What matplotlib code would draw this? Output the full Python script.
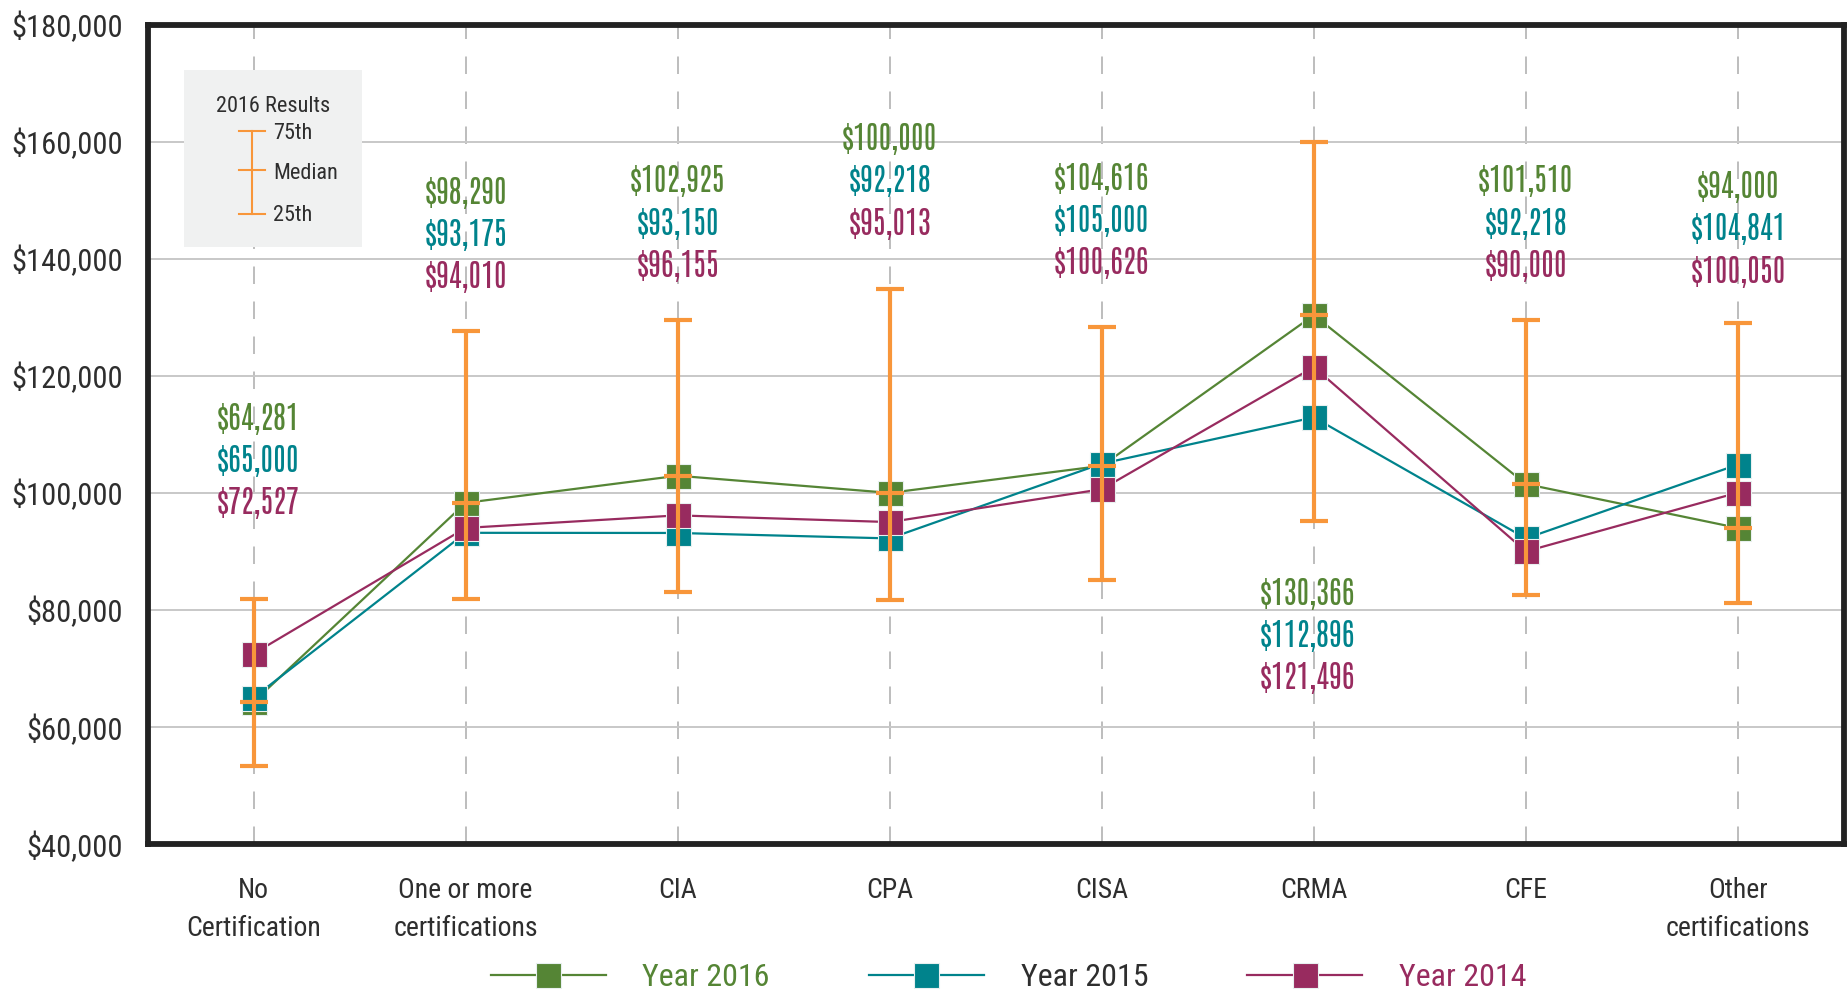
import matplotlib
matplotlib.use("Agg")
import matplotlib.pyplot as plt
from matplotlib.lines import Line2D

TICKFONT = ["Roboto Condensed", "Barlow Condensed", "Archivo Narrow", "Liberation Sans Narrow", "DejaVu Sans"]
LABELFONT = ["Antonio", "Oswald", "Roboto Condensed", "Liberation Sans Narrow", "DejaVu Sans"]
plt.rcParams["font.family"] = TICKFONT

# ---------------- data ----------------
categories = ["No\nCertification", "One or more\ncertifications", "CIA", "CPA",
              "CISA", "CRMA", "CFE", "Other\ncertifications"]
year2016 = [64281, 98290, 102925, 100000, 104616, 130366, 101510, 94000]
year2015 = [65000, 93175, 93150, 92218, 105000, 112896, 92218, 104841]
year2014 = [72527, 94010, 96155, 95013, 100626, 121496, 90000, 100050]
q75_2016 = [81800, 127600, 129600, 134800, 128400, 160000, 129500, 129000]
q25_2016 = [53300, 81800, 83100, 81700, 85100, 95200, 82500, 81200]
yticks = [40000, 60000, 80000, 100000, 120000, 140000, 160000, 180000]

# ---------------- style / layout ----------------
GREEN = "#558535"
TEAL = "#00838c"
MAGENTA = "#982b5f"
ORANGE = "#f8963a"
DARK = "#2e2e2e"

label_top = [112700, 151200, 153200, 160400, 153600, 82700, 153200, 152200]
label_dx = [0.02, 0, 0, 0, 0, -0.03, 0, 0]
label_step = 7200

fig = plt.figure(figsize=(18.49, 9.93), dpi=100)
ax = fig.add_axes([0.0798, 0.150, 0.9175, 0.8252])
x = list(range(len(categories)))

ax.set_xlim(-0.5, 7.5)
ax.set_ylim(40000, 180000)
ax.set_yticks(yticks)
ax.set_yticklabels([f"${v:,}" for v in yticks])
ax.set_xticks(x)
ax.set_xticklabels(categories, linespacing=1.5)
ax.tick_params(axis="both", length=0, colors=DARK)
ax.tick_params(axis="y", pad=18, labelsize=22)
ax.tick_params(axis="x", pad=24, labelsize=20)

for s in ax.spines.values():
    s.set_linewidth(4.2)
    s.set_color("#222222")

ax.yaxis.grid(True, color="#c8c8c8", lw=1.4, zorder=0)
ax.set_axisbelow(True)
for xi in x:
    ax.axvline(xi, color="#bdbdbd", lw=1.4, ls=(0, (9, 9)), zorder=0.5)

series = [(year2015, TEAL, 3), (year2014, MAGENTA, 4), (year2016, GREEN, 2)]
for vals, col, z in series:
    ax.plot(x, vals, color=col, lw=1.6, marker="s", ms=18, mfc=col,
            mec="#e8f0f0", mew=0.8, zorder=z)

# 2016 quartile bars
lower = [m - q for m, q in zip(year2016, q25_2016)]
upper = [q - m for m, q in zip(year2016, q75_2016)]
ax.errorbar(x, year2016, yerr=[lower, upper], fmt="none", ecolor=ORANGE,
            elinewidth=3, capsize=10, capthick=3, zorder=6)
ax.scatter(x, year2016, marker="_", s=420, color=ORANGE, linewidths=3, zorder=7)

# value labels
for i in x:
    for k, (vals, col) in enumerate([(year2016, GREEN), (year2015, TEAL), (year2014, MAGENTA)]):
        ax.text(i + label_dx[i], label_top[i] - k * label_step, f"${vals[i]:,}",
                color=col, fontsize=22, ha="center", va="center", zorder=8,
                family=LABELFONT)

# "2016 Results" key box
kax = fig.add_axes([184 / 1849, 1 - 247 / 993, 178 / 1849, 177 / 993])
kax.set_facecolor("#f0f1f1")
kax.set_xlim(0, 178)
kax.set_ylim(177, 0)
kax.set_xticks([])
kax.set_yticks([])
for s in kax.spines.values():
    s.set_visible(False)
kax.plot([68, 68], [61, 144], color=ORANGE, lw=1.5)
for yy in (61, 100, 144):
    kax.plot([55, 81], [yy, yy], color=ORANGE, lw=1.5)
kax.text(89, 36, "2016 Results", ha="center", va="center", fontsize=16, color=DARK)
for yy, t in zip((63.5, 103.5, 145.5), ("75th", "Median", "25th")):
    kax.text(89, yy, t, ha="left", va="center", fontsize=16, color=DARK)

# bottom legend
handles = [Line2D([], [], color=col, lw=1.6, marker="s", ms=18, mfc=col, mec="#e8f0f0", mew=0.8)
           for col in (GREEN, TEAL, MAGENTA)]
leg = fig.legend(handles, ["Year 2016", "Year 2015", "Year 2014"], loc="center",
                 bbox_to_anchor=(0.5455, 1 - 978 / 993), ncol=3, frameon=False,
                 fontsize=23, handlelength=3.6, handletextpad=1.15, columnspacing=3.1)
for t, c in zip(leg.get_texts(), (GREEN, DARK, MAGENTA)):
    t.set_color(c)

fig.savefig("out.png", dpi=100)
